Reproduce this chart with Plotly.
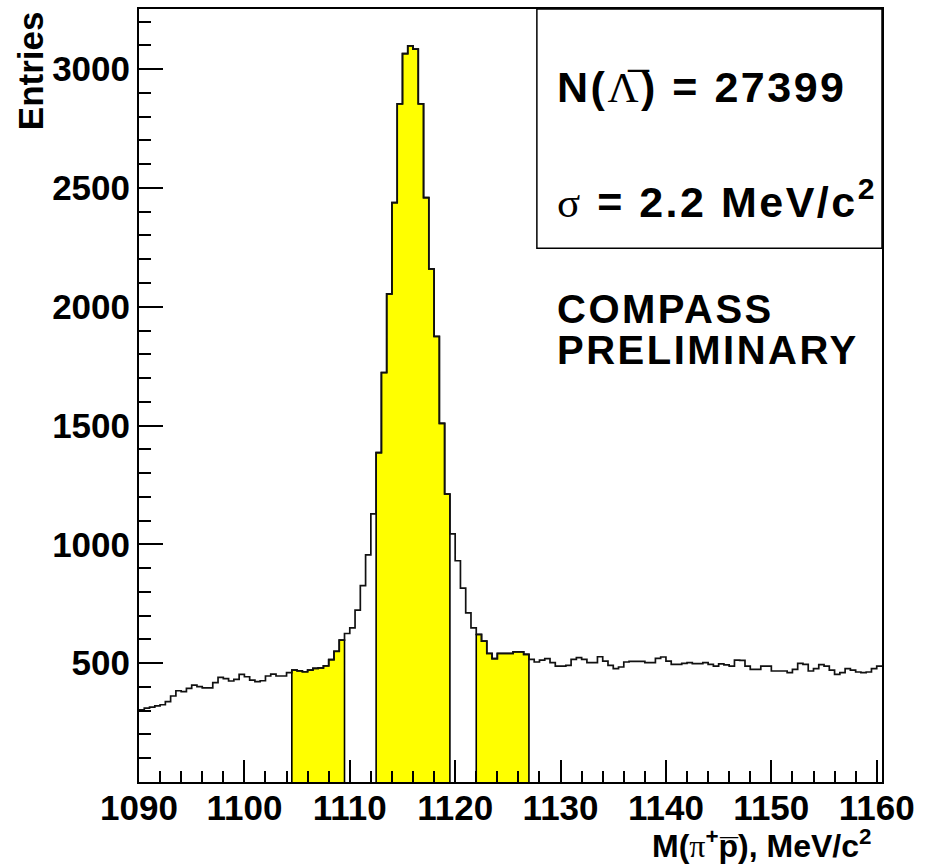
import plotly.graph_objects as go

# ---------------- data ----------------
mass_min = 1090.0          # lower edge of first bin, MeV/c^2
bin_width = 0.5            # MeV/c^2
entries = [
    # 1090.0 - 1104.5
    304, 311, 315, 320, 325, 338, 362, 384, 380, 394,
    408, 401, 396, 396, 418, 440, 435, 425, 432, 453,
    443, 429, 422, 426, 446, 454, 446, 446, 460,
    # 1104.5 - 1109.5 (left sideband)
    471, 468, 464, 471, 478, 480, 489, 515, 550, 597,
    # 1109.5 - 1112.5
    625, 649, 723, 826, 956, 1128,
    # 1112.5 - 1119.5 (signal)
    1386, 1723, 2054, 2438, 2854, 3065, 3098, 3084, 2854, 2459,
    2159, 1875, 1509, 1212,
    # 1119.5 - 1122.0
    1044, 931, 816, 712, 649,
    # 1122.0 - 1127.0 (right sideband)
    621, 593, 541, 519, 541, 541, 541, 548, 548, 537,
    # 1127.0 - 1135.5
    516, 505, 513, 519, 502, 488, 488, 491, 516, 523,
    516, 502, 502, 527, 509, 491, 477,
    # 1135.5 - 1160.5
    484, 505, 508, 508, 508, 502, 502, 520, 526, 509,
    495, 495, 499, 502, 498, 498, 502, 495, 488, 497,
    493, 488, 513, 512, 488, 474, 474, 488, 488, 467,
    467, 467, 460, 474, 499, 495, 467, 477, 494, 488,
    471, 453, 460, 477, 471, 463, 460, 463, 477, 488,
]
windows = [(1104.5, 1109.5), (1112.5, 1119.5), (1122.0, 1127.0)]
x_ticks = [1090, 1100, 1110, 1120, 1130, 1140, 1150, 1160]
y_ticks = [500, 1000, 1500, 2000, 2500, 3000]
n_lambda = "27399"
sigma_val = "2.2"

# ---------------- figure ----------------
edges = [mass_min + i * bin_width for i in range(len(entries) + 1)]
x_max = edges[-1]
y_max = 1.05 * max(entries)

fig = go.Figure()

# filled (yellow) windows
for lo, hi in windows:
    idx = [i for i in range(len(entries))
           if edges[i] >= lo - 1e-9 and edges[i + 1] <= hi + 1e-9]
    xs = [edges[idx[0]]] + [edges[i] for i in idx] + [edges[idx[-1] + 1]] * 2
    ys = [0] + [entries[i] for i in idx] + [entries[idx[-1]], 0]
    fig.add_trace(go.Scatter(
        x=xs, y=ys, mode="lines",
        line=dict(shape="hv", color="black", width=1.6),
        fill="tozeroy", fillcolor="#ffff00", hoverinfo="skip"))

# histogram outline
fig.add_trace(go.Scatter(
    x=edges[:-1] + [edges[-1]], y=entries + [entries[-1]], mode="lines",
    line=dict(shape="hv", color="#111111", width=1.7), hoverinfo="skip"))

FONT = "Liberation Sans, Arial, Helvetica, sans-serif"
SERIF = "Liberation Serif, Times New Roman, serif"
tickfont = dict(family=FONT, size=35, color="black", weight="bold")

fig.update_xaxes(
    range=[mass_min, x_max], tickmode="array", tickvals=x_ticks,
    ticks="inside", ticklen=22, tickwidth=1.5, tickcolor="black",
    minor=dict(tick0=mass_min, dtick=2, ticks="inside", ticklen=11,
               tickwidth=1.5, tickcolor="black"),
    showline=True, linecolor="black", linewidth=2, mirror=True,
    showgrid=False, zeroline=False, tickfont=tickfont,
    ticklabelstandoff=-6)

fig.update_yaxes(
    range=[0, y_max], tickmode="array", tickvals=y_ticks,
    ticks="inside", ticklen=24, tickwidth=1.5, tickcolor="black",
    minor=dict(tick0=0, dtick=100, ticks="inside", ticklen=12,
               tickwidth=1.5, tickcolor="black"),
    showline=True, linecolor="black", linewidth=2, mirror=True,
    showgrid=False, zeroline=False, tickfont=tickfont)

fig.update_layout(
    width=932, height=867,
    margin=dict(l=139, r=50, t=7, b=85),
    plot_bgcolor="white", paper_bgcolor="white",
    showlegend=False,
    font=dict(family=FONT, color="black"))

# stat box
fig.add_shape(type="rect", xref="paper", yref="paper",
              x0=0.5355, x1=1.0, y0=0.6905, y1=1.0,
              line=dict(color="black", width=1.5), fillcolor="rgba(0,0,0,0)")

box_style = "letter-spacing:2.5px"
fig.add_annotation(
    xref="paper", yref="paper", x=0.5605, y=0.899, xanchor="left", yanchor="middle",
    showarrow=False,
    text=(f"<span style='{box_style}'><b>N(</b>"
          f"<span style='font-family:{SERIF};font-weight:normal'>Λ̅</span>"
          f"<b>) = {n_lambda}</b></span>"),
    font=dict(family=FONT, size=43, color="black"))
fig.add_annotation(
    xref="paper", yref="paper", x=0.5605, y=0.7544, xanchor="left", yanchor="middle",
    showarrow=False,
    text=(f"<span style='{box_style}'>"
          f"<span style='font-family:{SERIF};font-weight:normal'>σ</span>"
          f"<b> = {sigma_val} MeV/c<sup>2</sup></b></span>"),
    font=dict(family=FONT, size=43, color="black"))

prelim_style = "letter-spacing:2.5px"
fig.add_annotation(
    xref="paper", yref="paper", x=0.5605, y=0.6125, xanchor="left", yanchor="middle",
    showarrow=False, text=f"<span style='{prelim_style}'><b>COMPASS</b></span>",
    font=dict(family=FONT, size=40, color="black"))
fig.add_annotation(
    xref="paper", yref="paper", x=0.5605, y=0.5594, xanchor="left", yanchor="middle",
    showarrow=False, text=f"<span style='{prelim_style}'><b>PRELIMINARY</b></span>",
    font=dict(family=FONT, size=40, color="black"))

# axis titles
fig.add_annotation(
    xref="paper", yref="paper", x=0.988, y=-0.0806, xanchor="right", yanchor="middle",
    showarrow=False,
    text=(f"<b>M(</b><span style='font-family:{SERIF};font-weight:normal'>π</span>"
          f"<b><sup>+</sup>p̅), MeV/c<sup>2</sup></b>"),
    font=dict(family=FONT, size=32, color="black"))
fig.add_annotation(
    xref="paper", yref="paper", x=-0.1458, y=1.0, xanchor="center", yanchor="top",
    textangle=-90, showarrow=False, text="<b>Entries</b>",
    font=dict(family=FONT, size=35, color="black"))

fig.write_html("out.html")
